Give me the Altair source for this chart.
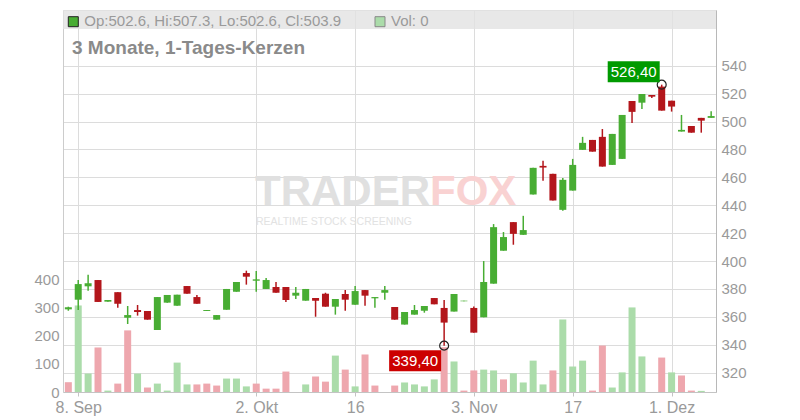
import altair as alt
import pandas as pd

# ---- data (daily candles, 5 Sep .. 5 Dec) ----
opens = [365.4, 372.3, 381.9, 386.4, 370.9, 377.7, 359.4, 364.9, 364.2, 350.6,
         370.2, 368.0, 382.1, 374.2, 364.2, 358.0, 365.1, 378.0, 391.4, 385.9,
         380.0, 381.4, 381.4, 375.2, 371.6, 373.5, 376.6, 367.3, 376.4, 368.7,
         379.2, 373.3, 377.3, 367.1, 354.5, 361.6, 364.4, 373.5, 366.4, 363.8,
         371.2, 366.4, 359.7, 383.8, 407.4, 427.9, 418.8, 447.7, 468.2, 462.5,
         436.7, 450.5, 479.7, 486.8, 489.0, 468.9, 473.2, 514.7, 513.5, 519.0,
         525.0, 514.9, 492.8, 496.8, 502.6, 502.6]
highs = [367.3, 386.4, 390.2, 386.4, 372.1, 377.7, 367.8, 368.5, 364.2, 374.2,
         375.7, 375.9, 382.1, 375.7, 364.9, 361.3, 380.0, 385.0, 393.1, 392.8,
         387.8, 385.0, 381.4, 381.4, 380.0, 373.5, 377.3, 372.8, 379.2, 382.1,
         379.2, 374.2, 382.1, 367.1, 363.5, 368.5, 367.8, 373.5, 372.1, 376.4,
         371.6, 367.4, 400.0, 426.5, 420.8, 427.9, 432.4, 466.8, 471.8, 462.5,
         459.6, 473.2, 489.0, 486.8, 494.6, 491.1, 504.7, 514.7, 519.7, 519.0,
         526.4, 514.9, 504.7, 496.8, 502.6, 507.3]
lows = [364.4, 364.9, 378.7, 370.7, 370.9, 366.6, 354.9, 360.9, 358.0, 350.6,
        370.2, 368.0, 376.6, 369.4, 364.2, 358.0, 365.1, 378.0, 383.1, 378.0,
        380.0, 377.3, 370.7, 372.8, 371.6, 360.1, 367.3, 361.6, 364.4, 368.7,
        368.0, 366.6, 372.3, 358.0, 354.5, 361.6, 363.0, 369.0, 339.4, 363.8,
        371.2, 348.7, 359.7, 383.8, 407.4, 411.7, 418.8, 447.7, 457.5, 443.4,
        436.0, 450.5, 479.7, 478.4, 467.7, 468.9, 473.2, 499.0, 509.0, 516.9,
        507.8, 507.1, 492.8, 492.0, 492.0, 502.6]
closes = [366.9, 383.5, 384.1, 370.7, 372.1, 369.4, 361.3, 363.5, 358.0, 374.2,
          375.7, 375.9, 376.6, 369.4, 364.9, 361.3, 380.0, 385.0, 388.8, 386.9,
          386.4, 377.3, 372.1, 377.3, 380.0, 371.6, 367.3, 372.8, 372.3, 378.5,
          375.2, 374.2, 379.2, 358.0, 363.5, 364.9, 367.8, 369.0, 355.9, 376.4,
          371.6, 348.7, 385.0, 424.3, 417.2, 419.5, 422.2, 466.8, 467.0, 443.4,
          458.2, 468.9, 484.7, 478.4, 467.7, 491.1, 504.7, 506.9, 519.7, 517.8,
          507.8, 510.7, 494.0, 492.0, 500.6, 503.9]
volumes = [35, 309, 66, 159, 5, 30, 220, 66, 16, 30,
           5, 105, 27, 27, 30, 23, 48, 48, 20, 30,
           12, 12, 73, 0, 27, 55, 37, 130, 80, 20,
           134, 23, 0, 23, 34, 27, 20, 45, 160, 109,
           5, 77, 80, 77, 45, 67, 34, 112, 27, 77,
           259, 91, 112, 5, 166, 16, 70, 302, 127, 0,
           123, 70, 59, 5, 4, 0]
vol_up = [0, 1, 1, 0, 1, 0, 0, 1, 0, 1,
          1, 1, 1, 0, 0, 0, 1, 1, 1, 0,
          0, 0, 0, 1, 1, 0, 0, 1, 0, 1,
          0, 0, 1, 0, 1, 1, 1, 1, 0, 1,
          0, 0, 1, 1, 0, 1, 1, 1, 1, 0,
          1, 1, 1, 0, 0, 1, 1, 1, 1, 0,
          0, 1, 0, 0, 1, 1]

tick_idx = [1, 19, 29, 41, 51, 61]
tick_labels = ["8. Sep", "2. Okt", "16", "3. Nov", "17", "1. Dez"]
price_ticks = [320, 340, 360, 380, 400, 420, 440, 460, 480, 500, 520, 540]
vol_ticks = [0, 100, 200, 300, 400]

ann_hi = {"i": [60], "price": [526.4], "label": ["526,40"]}
ann_lo = {"i": [38], "price": [339.4], "label": ["339,40"]}

title_text = "3 Monate, 1-Tages-Kerzen"
ohlc_text = "Op:502.6, Hi:507.3, Lo:502.6, Cl:503.9"
vol_text = "Vol: 0"

# ---- styling ----
GREEN = "#48ad33"
RED = "#b3161b"
VGREEN = "#abdcaa"
VRED = "#eea7ae"
GRID = "#dcdcdc"
LBL = "#9a9a9a"
FONT = "Liberation Sans"
W, H = 653, 382

df = pd.DataFrame({"i": list(range(len(closes))), "open": opens, "high": highs,
                   "low": lows, "close": closes, "volume": volumes})
df["ccol"] = [GREEN if c >= o else RED for o, c in zip(opens, closes)]
df["vcol"] = [VGREEN if u else VRED for u in vol_up]

label_expr = "''"
for idx, lab in reversed(list(zip(tick_idx, tick_labels))):
    label_expr = f"datum.value == {idx} ? '{lab}' : {label_expr}"

x_enc = alt.X("i:Q",
              scale=alt.Scale(domain=[-0.54, 65.49], nice=False, zero=False, padding=0),
              axis=alt.Axis(values=tick_idx, labelExpr=label_expr, grid=True,
                            gridColor=GRID, domainColor="#c4c4c4", tickColor="#c4c4c4",
                            tickSize=4, labelFontSize=16, labelColor=LBL,
                            labelPadding=3.5, title=None, labelFont=FONT))

price_scale = alt.Scale(domain=[306.17, 579.9], nice=False, zero=False, padding=0)
price_axis = alt.Axis(orient="right", values=price_ticks, grid=True, gridColor=GRID,
                      domainColor="#b8b8b8", ticks=False, labelFontSize=15,
                      labelColor=LBL, labelPadding=5, title=None, labelFont=FONT)


def one(text):
    return pd.DataFrame({"t": [text]})


# ---- background pieces ----
header = alt.Chart(one("h")).mark_rect(color="#e2e2e2", opacity=0.8).encode(
    x=alt.value(0), x2=alt.value(W), y=alt.value(0), y2=alt.value(19))
wm1 = alt.Chart(one("TRADER")).mark_text(align="right", baseline="alphabetic", fontSize=42,
                                          fontWeight="bold", color="#e0e0e0", font=FONT).encode(
    x=alt.value(367), y=alt.value(195), text="t:N")
wm2 = alt.Chart(one("FOX")).mark_text(align="left", baseline="alphabetic", fontSize=42,
                                       fontWeight="bold", color="#f9d2d2", font=FONT).encode(
    x=alt.value(367), y=alt.value(195), text="t:N")
wm3 = alt.Chart(one("REALTIME STOCK SCREENING")).mark_text(
    align="center", baseline="alphabetic", fontSize=10.5, color="#e2e2e2", font=FONT).encode(
    x=alt.value(271), y=alt.value(215), text="t:N")
title = alt.Chart(one(title_text)).mark_text(align="left", baseline="alphabetic", fontSize=19,
                                              fontWeight="bold", color="#8a8a8a", font=FONT).encode(
    x=alt.value(9), y=alt.value(43.5), text="t:N")
sq1 = alt.Chart(one("s")).mark_square(size=100, color=GREEN, stroke="#222", strokeWidth=1,
                                      opacity=1).encode(x=alt.value(10.3), y=alt.value(11.7))
t1 = alt.Chart(one(ohlc_text)).mark_text(align="left", baseline="alphabetic", fontSize=15,
                                          color=LBL, font=FONT).encode(
    x=alt.value(21.3), y=alt.value(15.8), text="t:N")
sq2 = alt.Chart(one("s")).mark_square(size=100, color=VGREEN, stroke="#888", strokeWidth=1,
                                      opacity=1).encode(x=alt.value(317), y=alt.value(11.7))
t2 = alt.Chart(one(vol_text)).mark_text(align="left", baseline="alphabetic", fontSize=15,
                                         color=LBL, font=FONT).encode(
    x=alt.value(328), y=alt.value(15.8), text="t:N")

vol = alt.Chart(df).mark_bar(size=7).encode(
    x=x_enc,
    y=alt.Y("volume:Q", scale=alt.Scale(domain=[0, 1364], nice=False, padding=0),
            axis=alt.Axis(orient="left", values=vol_ticks, grid=False, ticks=False,
                          domainColor="#cccccc", labelFontSize=15, labelColor=LBL,
                          labelPadding=4, title=None, labelFont=FONT)),
    color=alt.Color("vcol:N", scale=None))

vol_group = alt.layer(header, wm1, wm2, wm3, title, sq1, t1, sq2, t2, vol)

# ---- price layers ----
wick = alt.Chart(df).mark_rule(strokeWidth=1.5).encode(
    x=x_enc, y=alt.Y("low:Q", scale=price_scale, axis=price_axis), y2="high:Q",
    color=alt.Color("ccol:N", scale=None))
body = alt.Chart(df).mark_bar(size=7).encode(
    x=x_enc, y=alt.Y("open:Q", scale=price_scale, axis=price_axis), y2="close:Q",
    color=alt.Color("ccol:N", scale=None))


def ann_layers(d, col, dx, dy):
    a = pd.DataFrame(d)
    yv = alt.Y("price:Q", scale=price_scale, axis=price_axis)
    circ = alt.Chart(a).mark_point(shape="circle", size=80, filled=False, stroke="#222",
                                   strokeWidth=1.2, opacity=1).encode(x=x_enc, y=yv)
    box = alt.Chart(a).mark_rect(width=52, height=21, xOffset=dx, yOffset=dy,
                                 color=col).encode(x=x_enc, y=yv)
    txt = alt.Chart(a).mark_text(dx=dx, dy=dy, align="center", baseline="middle", fontSize=15,
                                 color="white", font=FONT).encode(x=x_enc, y=yv, text="label:N")
    return [circ, box, txt]


price_group = alt.layer(wick, body,
                        *ann_layers(ann_hi, "#009a00", -28, -13),
                        *ann_layers(ann_lo, "#cc0000", -29, 15))

chart = alt.layer(vol_group, price_group).resolve_scale(y="independent").properties(
    width=W, height=H,
    padding={"left": 55, "top": 2, "right": 70, "bottom": 24},
    autosize=alt.AutoSizeParams(type="none"),
    background="white",
).configure_view(stroke=None).configure(font=FONT)

chart.save("out.html", embed_options={"renderer": "svg", "actions": False})
